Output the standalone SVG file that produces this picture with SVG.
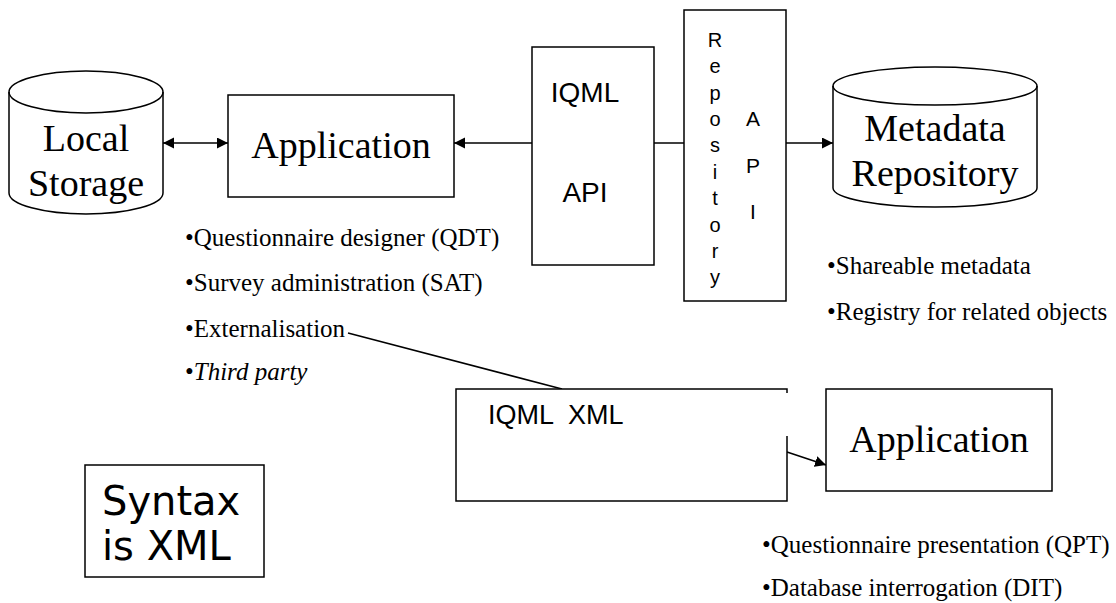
<svg xmlns="http://www.w3.org/2000/svg" width="1116" height="603" viewBox="0 0 1116 603">
  <style>
    .shape { fill: #fff; stroke: #000; stroke-width: 1.5; }
    .edge { fill: none; stroke: #000; stroke-width: 1.5; }
    .serif { font-family: "Liberation Serif", "Times New Roman", serif; fill: #000; }
    .sans { font-family: "Liberation Sans", Arial, sans-serif; fill: #000; }
    .big { font-size: 38px; text-anchor: middle; }
    .bullet { font-size: 25px; }
    .api { font-size: 28px; }
    .vert { font-size: 20px; text-anchor: middle; }
    .apiv { font-size: 21px; text-anchor: middle; }
    .syntax { font-family: "DejaVu Sans", Verdana, sans-serif; font-size: 40px; fill: #000; }
  </style>
  <defs>
    <marker id="arrow" markerUnits="userSpaceOnUse" markerWidth="12" markerHeight="12" refX="11" refY="5.5" orient="auto-start-reverse" viewBox="0 0 12 12">
      <path d="M0,0 L11,5.5 L0,11 z" fill="#000"/>
    </marker>
  </defs>

  <!-- connectors -->
  <g id="connectors">
    <line class="edge" x1="163" y1="143" x2="228" y2="143" marker-start="url(#arrow)" marker-end="url(#arrow)"/>
    <line class="edge" x1="532" y1="143" x2="454" y2="143" marker-end="url(#arrow)"/>
    <line class="edge" x1="654" y1="143" x2="684" y2="143"/>
    <line class="edge" x1="786" y1="143" x2="833" y2="143" marker-end="url(#arrow)"/>
    <line class="edge" x1="348" y1="333" x2="562" y2="389"/>
    <line class="edge" x1="787" y1="452" x2="826" y2="465" marker-end="url(#arrow)"/>
  </g>

  <!-- local storage cylinder -->
  <g id="local-storage">
    <path class="shape" d="M9,92 A77,21 0 0 1 163,92 V193 A77,21 0 0 1 9,193 Z"/>
    <path class="edge" d="M9,92 A77,21 0 0 0 163,92"/>
    <text class="serif big" x="86" y="151">Local</text>
    <text class="serif big" x="86" y="196">Storage</text>
  </g>

  <!-- application (top) -->
  <g id="application-top">
    <rect class="shape" x="228" y="95" width="226" height="102"/>
    <text class="serif big" x="341" y="158">Application</text>
  </g>

  <!-- IQML API -->
  <g id="iqml-api">
    <rect class="shape" x="532" y="47" width="122" height="218"/>
    <text class="sans api" x="585" y="102" text-anchor="middle">IQML</text>
    <text class="sans api" x="585" y="202" text-anchor="middle">API</text>
  </g>

  <!-- repository API -->
  <g id="repository-api">
    <rect class="shape" x="684" y="10" width="102" height="291"/>
    <text class="sans vert" x="715" y="47">R</text>
    <text class="sans vert" x="715" y="73">e</text>
    <text class="sans vert" x="715" y="100">p</text>
    <text class="sans vert" x="715" y="126">o</text>
    <text class="sans vert" x="715" y="152">s</text>
    <text class="sans vert" x="715" y="179">i</text>
    <text class="sans vert" x="715" y="205">t</text>
    <text class="sans vert" x="715" y="232">o</text>
    <text class="sans vert" x="715" y="258">r</text>
    <text class="sans vert" x="715" y="284">y</text>
    <text class="sans apiv" x="753" y="126">A</text>
    <text class="sans apiv" x="753" y="173">P</text>
    <text class="sans apiv" x="753" y="219">I</text>
  </g>

  <!-- metadata repository cylinder -->
  <g id="metadata-repository">
    <path class="shape" d="M833,86 A102,19 0 0 1 1037,86 V188 A102,19 0 0 1 833,188 Z"/>
    <path class="edge" d="M833,86 A102,19 0 0 0 1037,86"/>
    <text class="serif big" x="935" y="141">Metadata</text>
    <text class="serif big" x="935" y="186">Repository</text>
  </g>

  <!-- IQML XML -->
  <g id="iqml-xml">
    <path class="shape" d="M787,393 V389 H456 V501 H787 V436"/>
    <text class="sans" font-size="27" x="488" y="424" xml:space="preserve">IQML  XML</text>
  </g>

  <!-- application (bottom) -->
  <g id="application-bottom">
    <rect class="shape" x="826" y="389" width="226" height="102"/>
    <text class="serif big" x="939" y="452">Application</text>
  </g>

  <!-- syntax note -->
  <g id="syntax-note">
    <rect class="shape" x="85" y="465" width="179" height="112"/>
    <text class="syntax" x="102" y="515">Syntax</text>
    <text class="syntax" x="102" y="560">is XML</text>
  </g>

  <!-- feature lists -->
  <g id="application-features">
    <text class="serif bullet" x="185" y="246">•Questionnaire designer (QDT)</text>
    <text class="serif bullet" x="185" y="291">•Survey administration (SAT)</text>
    <text class="serif bullet" x="185" y="337">•Externalisation</text>
    <text class="serif bullet" x="185" y="380">•<tspan font-style="italic">Third party</tspan></text>
  </g>
  <g id="repository-features">
    <text class="serif bullet" x="827" y="274">•Shareable metadata</text>
    <text class="serif bullet" x="827" y="320">•Registry for related objects</text>
  </g>
  <g id="presentation-features">
    <text class="serif bullet" x="762" y="553">•Questionnaire presentation (QPT)</text>
    <text class="serif bullet" x="762" y="596">•Database interrogation (DIT)</text>
  </g>
</svg>
